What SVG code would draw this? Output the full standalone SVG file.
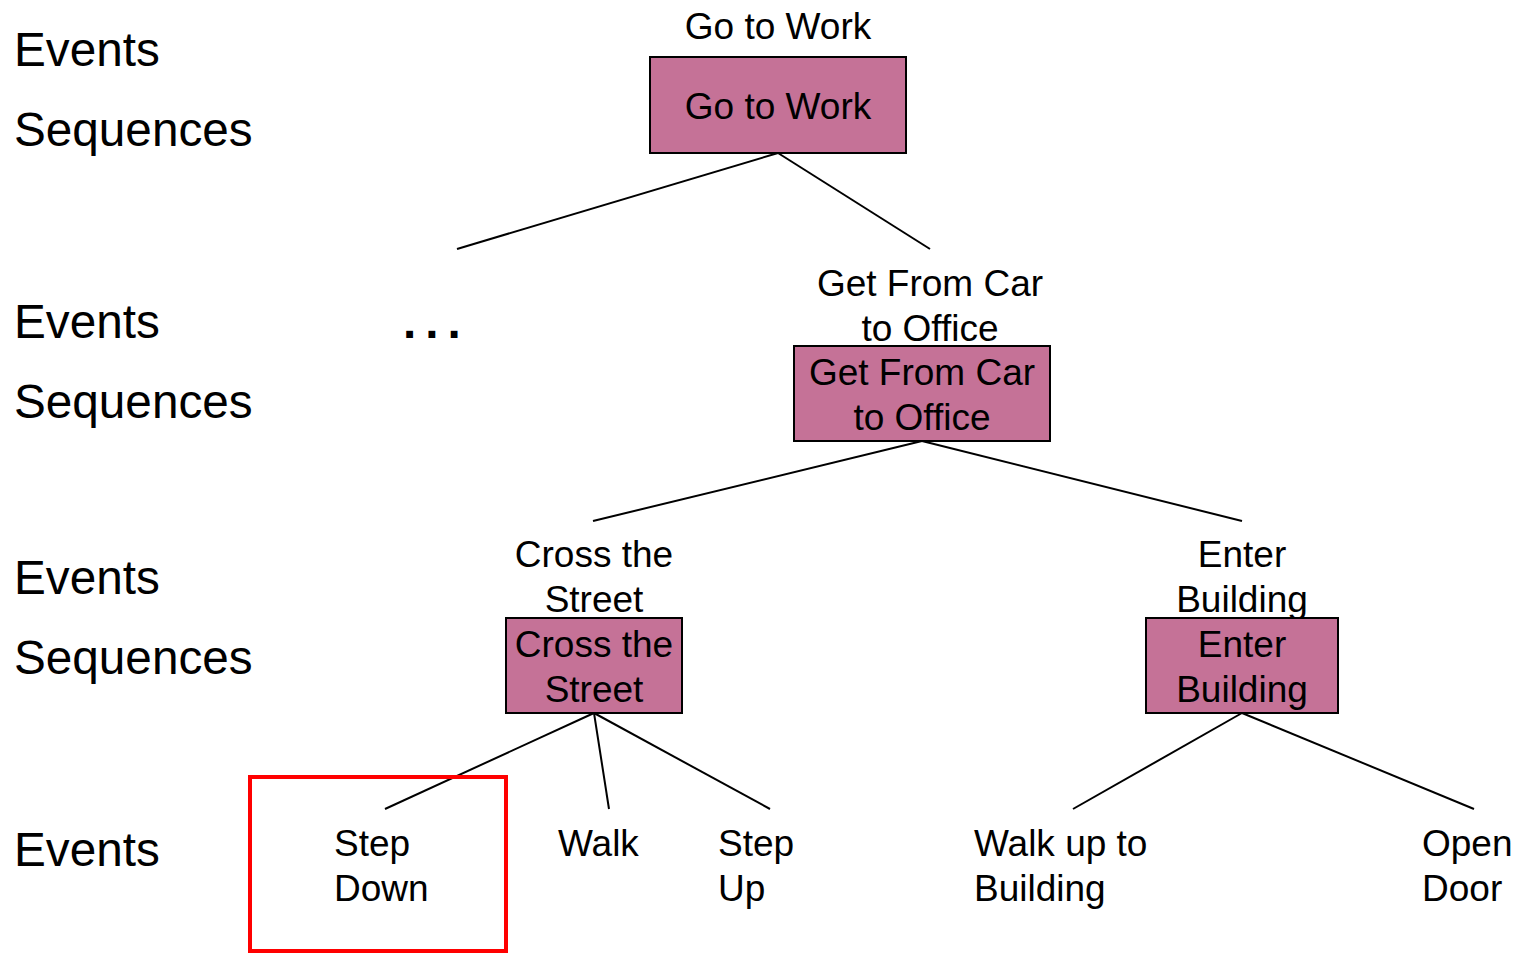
<svg xmlns="http://www.w3.org/2000/svg" width="1517" height="953" viewBox="0 0 1517 953">
<style>
.lbl{font-family:"Liberation Sans",Arial,sans-serif;font-size:47.7px;fill:#000}
.t{font-family:"Liberation Sans",Arial,sans-serif;font-size:37px;fill:#000}
.c{text-anchor:middle}
.box{fill:#C57297;stroke:#000;stroke-width:2}
.ln{stroke:#000;stroke-width:2;fill:none}
</style>
<rect width="1517" height="953" fill="#fff"/>
<g id="levels">
<text class="lbl" x="14" y="66">Events</text>
<text class="lbl" x="14" y="146">Sequences</text>
<text class="lbl" x="14" y="338">Events</text>
<text class="lbl" x="14" y="418">Sequences</text>
<text class="lbl" x="14" y="594">Events</text>
<text class="lbl" x="14" y="674">Sequences</text>
<text class="lbl" x="14" y="866">Events</text>
</g>
<g id="connectors">
<line class="ln" x1="778" y1="153" x2="457" y2="249"/>
<line class="ln" x1="778" y1="153" x2="930" y2="249"/>
<line class="ln" x1="922" y1="441" x2="593" y2="521"/>
<line class="ln" x1="922" y1="441" x2="1242" y2="521"/>
<line class="ln" x1="594" y1="713" x2="385" y2="809"/>
<line class="ln" x1="594" y1="713" x2="609" y2="809"/>
<line class="ln" x1="594" y1="713" x2="770" y2="809"/>
<line class="ln" x1="1242" y1="713" x2="1073" y2="809"/>
<line class="ln" x1="1242" y1="713" x2="1474" y2="809"/>
</g>
<g id="go-to-work">
<text class="t c" x="778" y="39">Go to Work</text>
<rect class="box" x="650" y="57" width="256" height="96"/>
<text class="t c" x="778" y="119">Go to Work</text>
</g>
<g id="ellipsis">
<text class="lbl" x="403" y="338" letter-spacing="9" font-weight="bold">...</text>
</g>
<g id="get-from-car">
<text class="t c" x="930" y="296">Get From Car</text>
<text class="t c" x="930" y="341">to Office</text>
<rect class="box" x="794" y="346" width="256" height="95"/>
<text class="t c" x="922" y="385">Get From Car</text>
<text class="t c" x="922" y="430">to Office</text>
</g>
<g id="cross-the-street">
<text class="t c" x="594" y="567">Cross the</text>
<text class="t c" x="594" y="612">Street</text>
<rect class="box" x="506" y="618" width="176" height="95"/>
<text class="t c" x="594" y="657">Cross the</text>
<text class="t c" x="594" y="702">Street</text>
</g>
<g id="enter-building">
<text class="t c" x="1242" y="567">Enter</text>
<text class="t c" x="1242" y="612">Building</text>
<rect class="box" x="1146" y="618" width="192" height="95"/>
<text class="t c" x="1242" y="657">Enter</text>
<text class="t c" x="1242" y="702">Building</text>
</g>
<g id="step-down">
<rect x="250" y="777" width="256" height="174" fill="none" stroke="#FF0000" stroke-width="4"/>
<text class="t" x="334" y="856">Step</text>
<text class="t" x="334" y="901">Down</text>
</g>
<g id="walk">
<text class="t" x="558" y="856">Walk</text>
</g>
<g id="step-up">
<text class="t" x="718" y="856">Step</text>
<text class="t" x="718" y="901">Up</text>
</g>
<g id="walk-up">
<text class="t" x="974" y="856">Walk up to</text>
<text class="t" x="974" y="901">Building</text>
</g>
<g id="open-door">
<text class="t" x="1422" y="856">Open</text>
<text class="t" x="1422" y="901">Door</text>
</g>
</svg>
